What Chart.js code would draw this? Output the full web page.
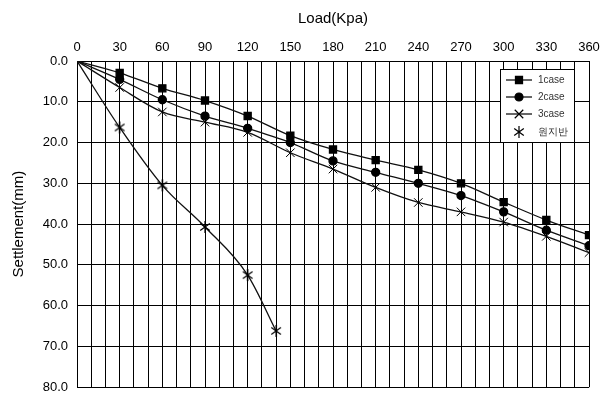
<!DOCTYPE html>
<html>
<head>
<meta charset="utf-8">
<script src="https://cdn.jsdelivr.net/npm/chart.js@4/dist/chart.umd.min.js"></script>
<style>
  html, body { margin: 0; padding: 0; background: #fff; }
  #wrap { width: 602px; height: 404px; }
</style>
</head>
<body>
<div id="wrap"><canvas id="myChart" width="602" height="404"></canvas></div>
<script>
(() => {
    'use strict'

    // data
    const loads = [0, 30, 60, 90, 120, 150, 180, 210, 240, 270, 300, 330, 360]
    const case1 = [0, 2.9, 6.7, 9.7, 13.5, 18.3, 21.7, 24.3, 26.7, 30.0, 34.6, 39.0, 42.7]
    const case2 = [0, 4.5, 9.5, 13.5, 16.5, 20.0, 24.5, 27.3, 30.0, 33.0, 37.0, 41.5, 45.3]
    const case3 = [0, 6.5, 12.5, 15.0, 17.5, 22.5, 26.5, 31.0, 34.7, 37.0, 39.5, 43.0, 47.0]
    const groundLoads = [0, 30, 60, 90, 120, 140]
    const ground = [0, 16.3, 30.5, 40.7, 52.5, 66.2]
    const seriesNames = ['1case', '2case', '3case', '원지반']

    const font = 'Liberation Sans, Arial, sans-serif'

    // asterisk marker: vertical bar plus an X
    function asterisk(r) {
        const c = document.createElement('canvas')
        c.width = c.height = r * 2 + 2
        const g = c.getContext('2d')
        const m = r + 1
        g.strokeStyle = '#000'
        g.lineWidth = 1.2
        g.beginPath()
        g.moveTo(m, m - r); g.lineTo(m, m + r)
        g.moveTo(m - r * 0.8, m - r * 0.6); g.lineTo(m + r * 0.8, m + r * 0.6)
        g.moveTo(m - r * 0.8, m + r * 0.6); g.lineTo(m + r * 0.8, m - r * 0.6)
        g.stroke()
        return c
    }
    const star = asterisk(6)

    const pts = (xs, ys) => xs.map((x, i) => ({ x: x, y: ys[i] }))
    const radii = (n, r) => Array.from({ length: n }, (_, i) => (i === 0 ? 0 : r))

    const base = {
        borderColor: '#111',
        backgroundColor: '#000',
        borderWidth: 1.3,
        pointBorderColor: '#000',
        cubicInterpolationMode: 'monotone'
    }

    // legend box drawn inside the plot
    const boxLegend = {
        id: 'boxLegend',
        afterDraw(chart) {
            const ctx = chart.ctx
            const x0 = 500, y0 = 69, w = 74, h = 73
            ctx.save()
            ctx.fillStyle = '#fff'
            ctx.fillRect(x0, y0, w, h)
            ctx.strokeStyle = '#000'
            ctx.lineWidth = 1
            ctx.strokeRect(x0 + 0.5, y0 + 0.5, w, h)
            const rows = [80, 97, 114, 132]
            chart.data.datasets.forEach((ds, i) => {
                const y = rows[i]
                ctx.strokeStyle = '#000'
                ctx.fillStyle = '#000'
                if (i < 3) {
                    ctx.lineWidth = 1.2
                    ctx.beginPath()
                    ctx.moveTo(506, y); ctx.lineTo(532, y)
                    ctx.stroke()
                }
                Chart.helpers.drawPoint(ctx, {
                    pointStyle: ds.pointStyle,
                    radius: ds.legendRadius,
                    borderWidth: 1.2
                }, 519, y)
                ctx.fillStyle = '#333'
                ctx.font = '10px ' + font
                ctx.textBaseline = 'middle'
                ctx.fillText(ds.label, 538, y)
            })
            ctx.restore()
        }
    }

    const ctx = document.getElementById('myChart')
    // eslint-disable-next-line no-unused-vars
    const myChart = new Chart(ctx, {
        type: 'line',
        data: {
            datasets: [
                Object.assign({}, base, {
                    label: seriesNames[0],
                    data: pts(loads, case1),
                    pointStyle: 'rect',
                    pointRadius: radii(loads.length, 5),
                    legendRadius: 5
                }),
                Object.assign({}, base, {
                    label: seriesNames[1],
                    data: pts(loads, case2),
                    pointStyle: 'circle',
                    pointRadius: radii(loads.length, 4),
                    legendRadius: 4
                }),
                Object.assign({}, base, {
                    label: seriesNames[2],
                    data: pts(loads, case3),
                    pointStyle: 'crossRot',
                    pointRadius: radii(loads.length, 6),
                    pointBorderWidth: 1,
                    legendRadius: 6
                }),
                Object.assign({}, base, {
                    label: seriesNames[3],
                    data: pts(groundLoads, ground),
                    pointStyle: star,
                    pointRadius: radii(groundLoads.length, 6),
                    legendRadius: 6
                })
            ]
        },
        options: {
            responsive: false,
            animation: false,
            layout: { padding: { left: 0, right: 13, top: 0, bottom: 10 } },
            plugins: {
                legend: { display: false },
                tooltip: { enabled: false }
            },
            scales: {
                x: {
                    type: 'linear',
                    position: 'top',
                    min: 0,
                    max: 360,
                    afterFit(scale) {
                        scale.height = 61
                        scale.paddingLeft = 0
                        scale.paddingRight = 0
                    },
                    border: { color: '#000', width: 1 },
                    grid: { color: '#000', lineWidth: 1, drawTicks: false },
                    ticks: {
                        stepSize: 10,
                        autoSkip: false,
                        maxRotation: 0,
                        padding: 6,
                        color: '#000',
                        font: { family: font, size: 13 },
                        callback: v => (v % 30 === 0 ? String(v) : '')
                    },
                    title: {
                        display: true,
                        text: 'Load(Kpa)',
                        color: '#000',
                        font: { family: font, size: 15 },
                        padding: { top: 10, bottom: 2 }
                    }
                },
                y: {
                    reverse: true,
                    min: 0,
                    max: 80,
                    afterFit(scale) { scale.width = 77 },
                    border: { color: '#000', width: 1 },
                    grid: { color: '#000', lineWidth: 1, drawTicks: false },
                    ticks: {
                        stepSize: 10,
                        padding: 9,
                        color: '#000',
                        font: { family: font, size: 13 },
                        callback: v => v.toFixed(1)
                    },
                    title: {
                        display: true,
                        text: 'Settlement(mm)',
                        color: '#000',
                        font: { family: font, size: 15 },
                        padding: { top: 10, bottom: 4 }
                    }
                }
            }
        },
        plugins: [boxLegend]
    })
})()
</script>
</body>
</html>
